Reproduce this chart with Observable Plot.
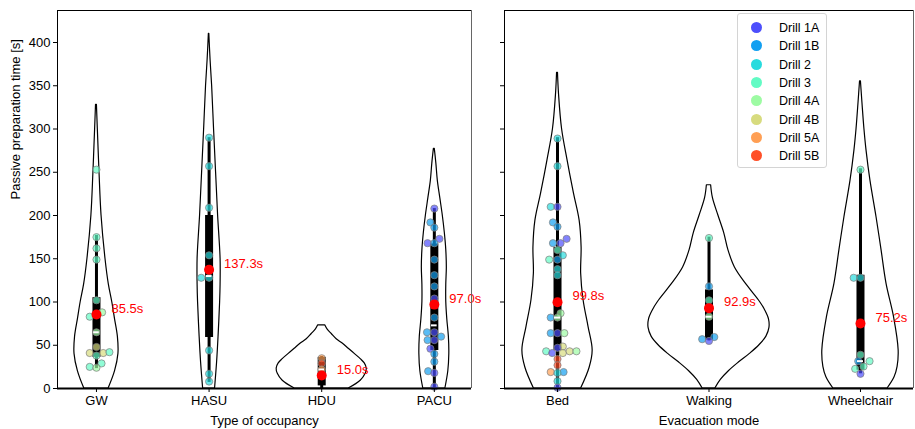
<!DOCTYPE html>
<html><head><meta charset="utf-8">
<script src="https://cdn.jsdelivr.net/npm/d3@7"></script>
<script src="https://cdn.jsdelivr.net/npm/@observablehq/plot@0.6"></script>
<style>
body{margin:0;background:#fff;font-family:"Liberation Sans",Arial,sans-serif;}
#wrap{position:relative;width:915px;height:429px;overflow:hidden;}
#left,#right{position:absolute;top:0;}
#left{left:0px} #right{left:480px}
#legend{position:absolute;left:737px;top:13px;width:88px;height:153px;border:1px solid #d4d4d4;border-radius:3px;background:rgba(255,255,255,0.85);font-size:12.5px;color:#000;}
.row{position:absolute;left:0;height:16px;}
.sw{position:absolute;left:13px;top:2px;width:11px;height:11px;border-radius:50%;}
.lb{position:absolute;left:41px;top:0px;line-height:16px;white-space:nowrap;}
</style></head>
<body><div id="wrap"><div id="left"></div><div id="right"></div><div id="legend"></div></div>
<script>
// ---- data ----
const drills = ["1A","1B","2","3","4A","4B","5A","5B"];
const drillColors = ["#4d4ffc","#129ff1","#28dbde","#62fbc4","#9dfba3","#d7db7e","#ff9f54","#ff4f28"];
const yTicks = [0,50,100,150,200,250,300,350,400];

const occCats = ["GW","HASU","HDU","PACU"];
const occLo   = [23, 7, 0, 1];
const occQ1   = [36, 59, 3, 44];
const occMed  = [65, 130, 22, 73];
const occQ3   = [105, 200, 36, 167];
const occHi   = [177, 290, 37, 208];
const occMean = [85.5, 137.3, 15.0, 97.0];

const modeCats = ["Bed","Walking","Wheelchair"];
const modeLo   = [1, 55, 17];
const modeQ1   = [44, 56, 21];
const modeMed  = [82, 83, 31.6];
const modeQ3   = [163, 114, 131];
const modeHi   = [290, 175, 254];
const modeMean = [99.8, 92.9, 75.2];

// violin profiles: [value, half-width in category units]
const violinGW = [[0,0.108],[20,0.165],[40,0.195],[60,0.19],[80,0.165],[100,0.14],[120,0.11],[150,0.08],[200,0.045],[250,0.027],[300,0.012],[328,0.004]];
const violinHASU = [[0,0.053],[30,0.071],[60,0.084],[100,0.098],[120,0.102],[150,0.102],[200,0.08],[250,0.062],[300,0.044],[350,0.027],[380,0.013],[410,0.002]];
const violinHDU = [[0,0.24],[9,0.346],[17,0.39],[23,0.4],[29,0.382],[34,0.346],[40,0.293],[46,0.24],[52,0.186],[57,0.133],[63,0.089],[68,0.053],[73,0.031]];
const violinPACU = [[0,0.098],[20,0.124],[40,0.133],[60,0.129],[80,0.115],[100,0.106],[120,0.106],[140,0.111],[160,0.106],[180,0.093],[200,0.075],[220,0.053],[240,0.031],[260,0.018],[277,0.004]];
const violinBed = [[0,0.156],[24,0.212],[44,0.232],[71,0.205],[102,0.172],[133,0.156],[163,0.159],[194,0.146],[225,0.109],[264,0.066],[300,0.03],[340,0.01],[365,0.003]];
const violinWalking = [[0,0.042],[10,0.078],[20,0.131],[30,0.197],[40,0.27],[50,0.333],[60,0.379],[70,0.399],[80,0.396],[90,0.372],[100,0.337],[120,0.248],[140,0.171],[160,0.128],[180,0.1],[200,0.062],[220,0.026],[235,0.014]];
const violinWheelchair = [[0,0.179],[13,0.225],[25,0.245],[44,0.252],[82,0.222],[121,0.172],[160,0.139],[198,0.106],[240,0.066],[275,0.04],[300,0.026],[330,0.013],[355,0.003]];

// points: [value, drill, jitter in category units]
const pointsGW = [[253,"3",0],[175,"3",0],[162,"3",0],[149,"3",0],[102,"3",0],[88,"4A",0.05],[83,"3",-0.06],[65,"4A",0],[48,"4B",0],[41,"4B",-0.06],[41,"4B",0.06],[42,"3",0.115],[38,"3",0],[29,"3",0.045],[25,"3",-0.06],[24,"4A",0]];
const pointsHASU = [[290,"2",0],[257,"2",0],[209,"2",0],[154,"2",0],[128,"2",0],[128,"2",-0.07],[44,"2",0],[17,"2",0],[8,"2",0]];
const pointsHDU = [[35,"5A",0],[29,"5B",0],[22,"5A",0]];
const pointsPACU = [[208,"1A",0],[192,"1B",-0.035],[186,"1B",0],[173,"1A",0.045],[168,"1A",-0.06],[168,"1B",0],[149,"1B",0],[131,"1B",0],[118,"1B",0],[104,"1A",0],[82,"1B",0],[65,"1B",-0.065],[65,"1A",0],[60,"1B",0.06],[56,"1B",-0.06],[56,"1A",0],[46,"1A",-0.035],[40,"1B",0],[31,"1B",0],[20,"1B",-0.055],[18,"1A",0],[2,"1A",0]];
const pointsBed = [[289,"2",0],[257,"2",0],[210,"2",-0.045],[210,"1A",0],[192,"1B",-0.03],[187,"1B",0],[173,"1A",0.06],[168,"1B",-0.03],[168,"1A",0.02],[160,"3",0],[154,"2",0.035],[149,"3",-0.055],[149,"1B",0],[138,"2",0],[131,"2",0],[87,"4A",0.02],[82,"1B",-0.045],[82,"4A",0],[64,"1B",-0.045],[64,"1A",0],[64,"4A",0.045],[48.5,"4B",0.035],[47,"1A",0],[43,"3",-0.075],[41,"1A",-0.035],[41,"4B",0.035],[43,"4B",0.08],[43,"4A",0.125],[34,"5B",0],[27,"5B",0],[19,"5A",-0.045],[19,"1B",0.04],[18,"2",0],[8.5,"2",0],[1,"1A",0]];
const pointsWalking = [[174,"3",0],[118,"1B",0],[102,"3",0],[83,"4A",0],[57,"1B",-0.045],[59.5,"1B",0.035],[55,"1A",0]];
const pointsWheelchair = [[253,"3",0],[128,"2",-0.045],[128,"2",0],[39,"3",0],[31.6,"1B",-0.015],[31.6,"3",0.06],[25.4,"3",0.02],[22.7,"3",-0.035],[17,"1A",0]];

// ---- drawing ----
const FONT = "'Liberation Sans', Arial, sans-serif";
function panel(o) {
  const vrows = o.violins.flatMap((prof, i) => prof.map(([y, w]) => ({z: i, pos: i, y, w})));
  const stats = o.cats.map((c, i) => ({pos: i, lo: o.lo[i], q1: o.q1[i], med: o.med[i], q3: o.q3[i], hi: o.hi[i], mean: o.mean[i]}));
  const pts = o.points.flatMap((arr, i) => arr.map(([v, d, j]) => ({x: i + j, y: v, drill: d})));
  const yMax = 437;
  return Plot.plot({
    width: o.width, height: 429,
    marginLeft: o.marginLeft, marginRight: o.marginRight, marginTop: 10, marginBottom: 41,
    x: {domain: o.xDomain},
    y: {domain: [0, yMax]},
    color: {domain: drills, range: drillColors},
    style: {fontFamily: FONT, fontSize: "13px", background: "transparent", overflow: "visible", color: "black"},
    marks: [
      Plot.areaX(vrows, {x1: d => d.pos - d.w, x2: d => d.pos + d.w, y: "y", z: "z", fill: "none", stroke: "black", strokeWidth: 1.2, curve: "catmull-rom"}),
      Plot.ruleX(stats, {x: "pos", y1: "lo", y2: "hi", stroke: "black", strokeWidth: 3}),
      Plot.ruleX(stats, {x: "pos", y1: "q1", y2: "q3", stroke: "black", strokeWidth: 8}),
      Plot.dot(pts, {x: "x", y: "y", r: 3.6, fill: "drill", fillOpacity: 0.7, stroke: "#808080", strokeOpacity: 0.8, strokeWidth: 0.9}),
      Plot.ruleY(stats, {y: "med", x1: d => d.pos - o.medW, x2: d => d.pos + o.medW, stroke: "white", strokeWidth: 2}),
      Plot.dot(stats, {x: "pos", y: "mean", r: 5, fill: "red"}),
      Plot.text(stats, {x: "pos", y: "mean", text: d => d.mean.toFixed(1) + "s", dx: 15, dy: -6, textAnchor: "start", lineAnchor: "middle", fill: "red", fontSize: 13}),
      Plot.ruleY([yMax], {stroke: "black", strokeWidth: 1}),
      Plot.ruleX([o.xDomain[0]], {stroke: "black", strokeWidth: 1}),
      Plot.ruleX([o.xDomain[1]], {stroke: "#666", strokeWidth: 1}),
      Plot.ruleY([0], {stroke: "black", strokeWidth: 2}),
      Plot.axisX({ticks: o.cats.map((_, i) => i), tickFormat: i => o.cats[i], tickSize: 4, tickPadding: 3, label: null, fontSize: 13}),
      Plot.axisY({ticks: yTicks, tickSize: 4, tickPadding: 3, label: null, fontSize: 13, tickFormat: o.showY ? d => String(d) : () => ""}),
      Plot.text([o.xLabel], {frameAnchor: "bottom", dy: 32, lineAnchor: "middle", fontSize: 13}),
      ...(o.showY ? [Plot.text(["Passive preparation time [s]"], {frameAnchor: "left", dx: -42, rotate: -90, lineAnchor: "middle", fontSize: 13})] : [])
    ]
  });
}

document.getElementById("left").append(panel({
  cats: occCats, lo: occLo, q1: occQ1, med: occMed, q3: occQ3, hi: occHi, mean: occMean,
  violins: [violinGW, violinHASU, violinHDU, violinPACU],
  points: [pointsGW, pointsHASU, pointsHDU, pointsPACU],
  width: 480, marginLeft: 57, marginRight: 9, xDomain: [-0.346, 3.33], medW: 0.025,
  xLabel: "Type of occupancy", showY: true
}));
document.getElementById("right").append(panel({
  cats: modeCats, lo: modeLo, q1: modeQ1, med: modeMed, q3: modeQ3, hi: modeHi, mean: modeMean,
  violins: [violinBed, violinWalking, violinWheelchair],
  points: [pointsBed, pointsWalking, pointsWheelchair],
  width: 435, marginLeft: 24, marginRight: 2, xDomain: [-0.35, 2.35], medW: 0.02,
  xLabel: "Evacuation mode", showY: false
}));

// legend
const leg = document.getElementById("legend");
drills.forEach((d, i) => {
  const row = document.createElement("div");
  row.className = "row";
  row.style.top = (6 + i * 18.3) + "px";
  row.innerHTML = `<span class="sw" style="background:${drillColors[i]}"></span><span class="lb">Drill ${d}</span>`;
  leg.append(row);
});
</script>
</body></html>
